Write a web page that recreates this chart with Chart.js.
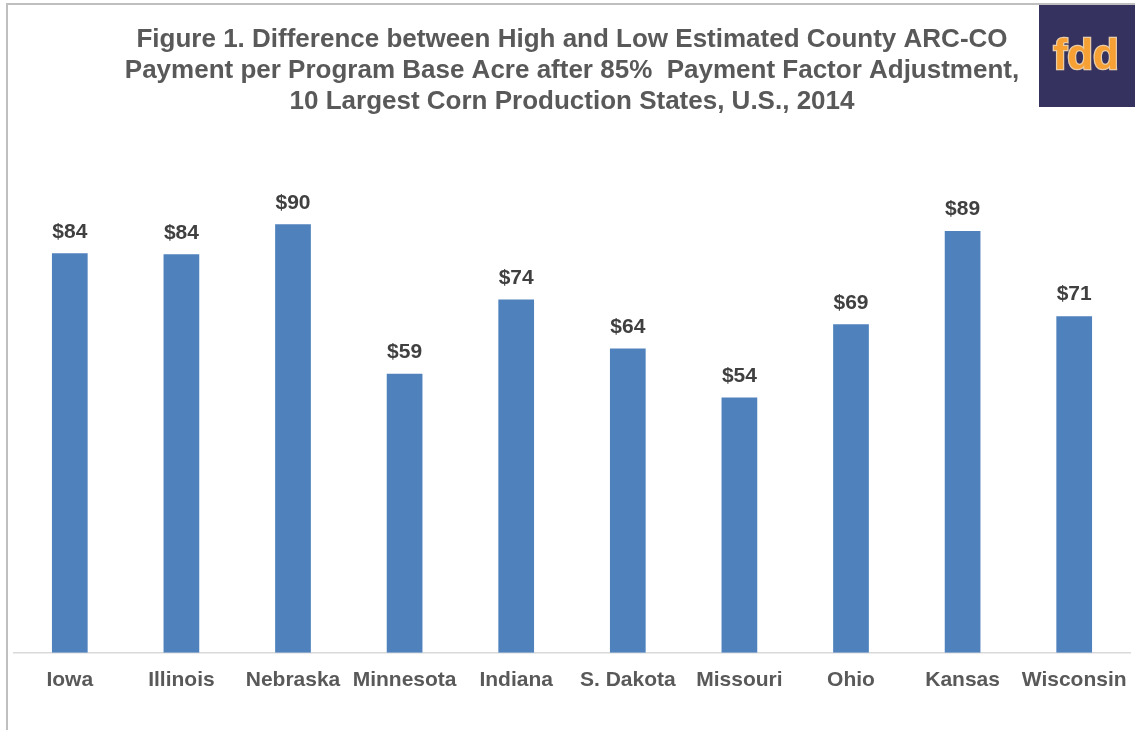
<!DOCTYPE html>
<html>
<head>
<meta charset="utf-8">
<script src="https://cdn.jsdelivr.net/npm/chart.js@4/dist/chart.umd.min.js"></script>
<style>
html,body{margin:0;padding:0;background:#fff;}
#wrap{width:1135px;height:730px;position:relative;}
</style>
</head>
<body>
<div id="wrap"><canvas id="c" width="1135" height="730"></canvas></div>
<script>
const categories = ["Iowa","Illinois","Nebraska","Minnesota","Indiana","S. Dakota","Missouri","Ohio","Kansas","Wisconsin"];
const payments = [83.9, 83.7, 90.0, 58.6, 74.2, 63.9, 53.6, 69.0, 88.6, 70.7];
const titleLines = [
  "Figure 1. Difference between High and Low Estimated County ARC-CO",
  "Payment per Program Base Acre after 85%  Payment Factor Adjustment,",
  "10 Largest Corn Production States, U.S., 2014"
];
const yMin = 0, yMax = 100;

const FONT = "'Liberation Sans', Arial, sans-serif";

const framePlugin = {
  id: 'frame',
  beforeDraw(chart) {
    const ctx = chart.ctx;
    ctx.save();
    ctx.fillStyle = '#fff';
    ctx.fillRect(0, 0, chart.width, chart.height);
    ctx.strokeStyle = '#BFBFBF';
    ctx.lineWidth = 2;
    ctx.beginPath();
    ctx.moveTo(7, 730);
    ctx.lineTo(7, 4);
    ctx.lineTo(1135, 4);
    ctx.stroke();
    ctx.restore();
  },
  afterDraw(chart) {
    const ctx = chart.ctx;
    ctx.save();
    ctx.fillStyle = '#35325F';
    ctx.fillRect(1039, 5, 96, 102);
    ctx.font = "bold 42px 'Liberation Sans', Arial, sans-serif";
    ctx.textAlign = 'center';
    ctx.textBaseline = 'middle';
    ctx.lineWidth = 2.5;
    ctx.strokeStyle = '#E8CDA8';
    ctx.strokeText('fdd', 1086, 57);
    ctx.fillStyle = '#F7A135';
    ctx.fillText('fdd', 1086, 57);
    ctx.restore();
  }
};

const labelPlugin = {
  id: 'barLabels',
  afterDatasetsDraw(chart) {
    const ctx = chart.ctx;
    const meta = chart.getDatasetMeta(0);
    ctx.save();
    ctx.font = "bold 21px " + FONT;
    ctx.fillStyle = '#404040';
    ctx.textAlign = 'center';
    ctx.textBaseline = 'bottom';
    meta.data.forEach((bar, i) => {
      ctx.fillText('$' + Math.round(payments[i]), bar.x, bar.y - 11);
    });
    ctx.restore();
  }
};

new Chart(document.getElementById('c'), {
  type: 'bar',
  data: {
    labels: categories,
    datasets: [{
      data: payments,
      backgroundColor: '#4F81BD',
      borderWidth: 0,
      categoryPercentage: 1.0,
      barPercentage: 0.32
    }]
  },
  options: {
    responsive: false,
    animation: false,
    devicePixelRatio: 1,
    layout: { autoPadding: false, padding: { left: 14, right: 5, top: 0, bottom: 22 } },
    plugins: {
      legend: { display: false },
      tooltip: { enabled: false },
      title: {
        display: true,
        text: titleLines,
        color: '#595959',
        font: { family: FONT, size: 26, weight: 'bold', lineHeight: 1.2 },
        padding: { top: 24, bottom: 59 }
      }
    },
    scales: {
      x: {
        grid: { display: false, drawTicks: false },
        border: { display: true, color: '#D9D9D9', width: 1.5 },
        afterFit(scale) { scale.paddingLeft = 0; scale.paddingRight = 0; },
        ticks: {
          color: '#595959',
          font: { family: FONT, size: 21, weight: 'bold' },
          padding: 15,
          maxRotation: 0,
          autoSkip: false
        }
      },
      y: {
        display: false,
        min: yMin,
        max: yMax
      }
    }
  },
  plugins: [framePlugin, labelPlugin]
});
</script>
</body>
</html>
